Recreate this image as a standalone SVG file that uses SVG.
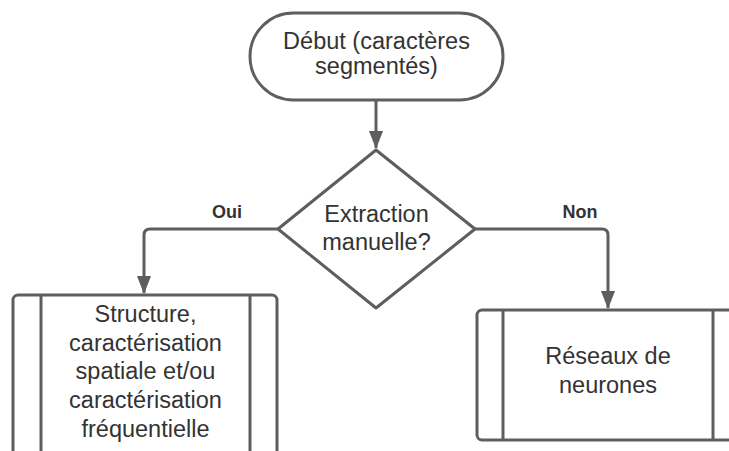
<svg xmlns="http://www.w3.org/2000/svg" width="729" height="451" viewBox="0 0 729 451">
  <style>
    .shape { fill: #ffffff; stroke: #5e5e5e; stroke-width: 3; }
    .inner { fill: none; stroke: #5e5e5e; stroke-width: 3; }
    .wire { fill: none; stroke: #5e5e5e; stroke-width: 3; stroke-linejoin: round; }
    .txt { font-family: "Liberation Sans", Arial, sans-serif; font-size: 23.5px; fill: #333333; text-anchor: middle; }
    .lbl { font-family: "Liberation Sans", Arial, sans-serif; font-size: 18px; font-weight: bold; fill: #333333; text-anchor: middle; }
  </style>
  <defs>
    <marker id="arrow" viewBox="0 0 18 14" refX="17" refY="7" markerWidth="18" markerHeight="14" markerUnits="userSpaceOnUse" orient="auto">
      <path d="M0,0 L18,7 L0,14 Z" fill="#5e5e5e"/>
    </marker>
  </defs>
  <rect width="729" height="451" fill="#ffffff"/>

  <g id="connectors">
    <path class="wire" d="M376,101 V148" marker-end="url(#arrow)"/>
    <path class="wire" d="M278,229 H150 Q144,229 144,235 V293" marker-end="url(#arrow)"/>
    <path class="wire" d="M475,229 H602 Q608,229 608,235 V308" marker-end="url(#arrow)"/>
  </g>

  <g id="start">
    <rect class="shape" x="250" y="13" width="253" height="87" rx="43.5"/>
    <text class="txt" x="376.5" y="49">Début (caractères</text>
    <text class="txt" x="376.5" y="74">segmentés)</text>
  </g>

  <g id="decision">
    <path class="shape" d="M376,150 L475,229 L376,308 L278,229 Z" stroke-linejoin="round"/>
    <text class="txt" x="376.5" y="221.5">Extraction</text>
    <text class="txt" x="376.5" y="250">manuelle?</text>
  </g>

  <g id="label-oui"><text class="lbl" x="227" y="218">Oui</text></g>
  <g id="label-non"><text class="lbl" x="580" y="218">Non</text></g>

  <g id="manual">
    <rect class="shape" x="13" y="295" width="264" height="175" rx="5"/>
    <line class="inner" x1="41" y1="295" x2="41" y2="470"/>
    <line class="inner" x1="250" y1="295" x2="250" y2="470"/>
    <text class="txt" x="145.5" y="322">Structure,</text>
    <text class="txt" x="145.5" y="350.5">caractérisation</text>
    <text class="txt" x="145.5" y="379">spatiale et/ou</text>
    <text class="txt" x="145.5" y="408">caractérisation</text>
    <text class="txt" x="145.5" y="437">fréquentielle</text>
  </g>

  <g id="neural">
    <rect class="shape" x="477" y="310" width="263" height="130" rx="5"/>
    <line class="inner" x1="503" y1="310" x2="503" y2="440"/>
    <line class="inner" x1="713" y1="310" x2="713" y2="440"/>
    <text class="txt" x="608" y="364">Réseaux de</text>
    <text class="txt" x="608" y="393">neurones</text>
  </g>
</svg>
